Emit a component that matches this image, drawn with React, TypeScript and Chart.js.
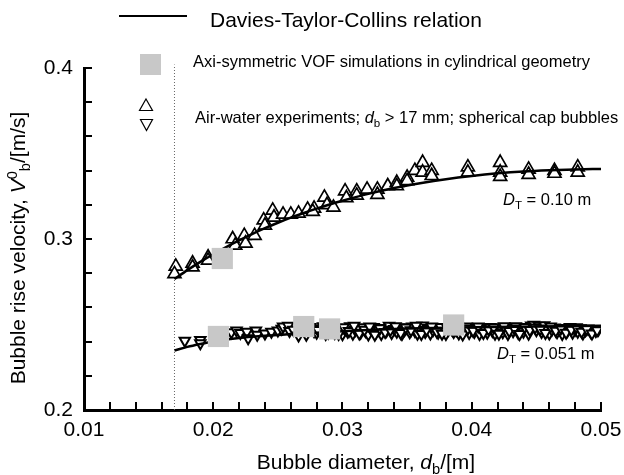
import React, { useEffect, useRef } from "react";
import { Chart, registerables } from "chart.js";

Chart.register(...registerables);

const FONT = '"Liberation Sans", Arial, Helvetica, sans-serif';

// Tick labels and minor tick positions
const xTickLabels = [0.01, 0.02, 0.03, 0.04, 0.05];
const yTickLabels = [0.2, 0.3, 0.4];
const xMinorTicks = [0.010, 0.012, 0.014, 0.016, 0.018, 0.020, 0.022, 0.024, 0.026, 0.028, 0.030, 0.032, 0.034, 0.036, 0.038, 0.040, 0.042, 0.044, 0.046, 0.048, 0.050];
const yMinorTicks = [0.20, 0.22, 0.24, 0.26, 0.28, 0.30, 0.32, 0.34, 0.36, 0.38, 0.40];

// Davies-Taylor-Collins relation, D_T = 0.10 m
const upperCurveD = [0.017, 0.018, 0.019, 0.020, 0.021, 0.022, 0.023, 0.024, 0.025, 0.026, 0.027, 0.028, 0.029, 0.030, 0.032, 0.034, 0.036, 0.038, 0.040, 0.042, 0.044, 0.046, 0.048, 0.050];
const upperCurveV = [0.2766, 0.2818, 0.2866, 0.2911, 0.2953, 0.2992, 0.3029, 0.3063, 0.3095, 0.3125, 0.3152, 0.3178, 0.3202, 0.3224, 0.3264, 0.3298, 0.3326, 0.3350, 0.3369, 0.3384, 0.3395, 0.3402, 0.3407, 0.3410];

// Davies-Taylor-Collins relation, D_T = 0.051 m
const lowerCurveD = [0.017, 0.018, 0.019, 0.020, 0.021, 0.022, 0.023, 0.024, 0.025, 0.026, 0.028, 0.030, 0.032, 0.035, 0.040, 0.045, 0.050];
const lowerCurveV = [0.2348, 0.2369, 0.2386, 0.2401, 0.2412, 0.2421, 0.2428, 0.2434, 0.2439, 0.2444, 0.2452, 0.2460, 0.2468, 0.2476, 0.2484, 0.2489, 0.2492];

// Axi-symmetric VOF simulations
const vofD = [0.0207, 0.0204, 0.0270, 0.0290, 0.0386];
const vofV = [0.2886, 0.2430, 0.2488, 0.2474, 0.2497];

// Air-water experiments, D_T = 0.10 m (up triangles)
const expUpperD = [0.0171, 0.0170, 0.0184, 0.0184, 0.0196, 0.0196, 0.0215, 0.0217, 0.0224, 0.0225, 0.0232, 0.0239, 0.0240, 0.0246, 0.0247, 0.0254, 0.0260, 0.0266, 0.0273, 0.0278, 0.0277, 0.0286, 0.0288, 0.0293, 0.0302, 0.0303, 0.0311, 0.0311, 0.0319, 0.0327, 0.0327, 0.0335, 0.0342, 0.0342, 0.0350, 0.0350, 0.0356, 0.0362, 0.0362, 0.0369, 0.0369, 0.0397, 0.0397, 0.0422, 0.0422, 0.0422, 0.0444, 0.0444, 0.0464, 0.0464, 0.0482, 0.0482];
const expUpperV = [0.2840, 0.2796, 0.2858, 0.2835, 0.2893, 0.2875, 0.3000, 0.2963, 0.3020, 0.2975, 0.3020, 0.3110, 0.3080, 0.3167, 0.3127, 0.3144, 0.3144, 0.3150, 0.3173, 0.3179, 0.3160, 0.3243, 0.3200, 0.3185, 0.3280, 0.3240, 0.3280, 0.3255, 0.3290, 0.3290, 0.3260, 0.3310, 0.3330, 0.3310, 0.3360, 0.3340, 0.3400, 0.3447, 0.3390, 0.3400, 0.3370, 0.3420, 0.3390, 0.3447, 0.3390, 0.3365, 0.3407, 0.3377, 0.3400, 0.3383, 0.3420, 0.3390];

// Air-water experiments, D_T = 0.051 m (down triangles)
const expLowerD = [0.0178, 0.0190, 0.0190, 0.0214, 0.0218, 0.0221, 0.0226, 0.0227, 0.0233, 0.0234, 0.0240, 0.0245, 0.0250, 0.0253, 0.0254, 0.0258, 0.0259, 0.0262, 0.0266, 0.0268, 0.0272, 0.0275, 0.0278,
  0.0280, 0.0283, 0.0285, 0.0287, 0.0290, 0.0292, 0.0294, 0.0296, 0.0298, 0.0300, 0.0302, 0.0304, 0.0306, 0.0308, 0.0310, 0.0312, 0.0314, 0.0316, 0.0318, 0.0320, 0.0322, 0.0324, 0.0326, 0.0328,
  0.0330, 0.0332, 0.0334, 0.0336, 0.0338, 0.0340, 0.0342, 0.0344, 0.0346, 0.0348, 0.0350, 0.0352, 0.0354, 0.0356, 0.0358, 0.0360, 0.0362, 0.0364, 0.0366, 0.0368, 0.0370, 0.0372, 0.0374, 0.0376,
  0.0378, 0.0380, 0.0382, 0.0384, 0.0386, 0.0388, 0.0390, 0.0392, 0.0394, 0.0396, 0.0398, 0.0400, 0.0402, 0.0404, 0.0406, 0.0408, 0.0410, 0.0412, 0.0414, 0.0416, 0.0418, 0.0420, 0.0422, 0.0424,
  0.0426, 0.0428, 0.0430, 0.0432, 0.0434, 0.0436, 0.0438, 0.0440, 0.0442, 0.0444, 0.0446, 0.0448, 0.0450, 0.0452, 0.0454, 0.0456, 0.0458, 0.0460, 0.0462, 0.0464, 0.0466, 0.0468, 0.0470, 0.0472,
  0.0474, 0.0476, 0.0478, 0.0480, 0.0482, 0.0484, 0.0486, 0.0488, 0.0490, 0.0492, 0.0494, 0.0496, 0.0498];
const expLowerV = [0.2405, 0.2410, 0.2390, 0.2455, 0.2465, 0.2450, 0.2458, 0.2420, 0.2465, 0.2440, 0.2448, 0.2458, 0.2465, 0.2475, 0.2488, 0.2492, 0.2462, 0.2470, 0.2436, 0.2478, 0.2440, 0.2485, 0.2460,
  0.2452, 0.2478, 0.2462, 0.2445, 0.2470, 0.2488, 0.2450, 0.2465, 0.2480, 0.2443, 0.2472, 0.2458, 0.2490, 0.2446, 0.2468, 0.2478, 0.2452, 0.2484, 0.2460, 0.2442, 0.2474, 0.2486, 0.2455, 0.2470,
  0.2445, 0.2480, 0.2462, 0.2492, 0.2450, 0.2474, 0.2458, 0.2484, 0.2444, 0.2468, 0.2478, 0.2454, 0.2488, 0.2462, 0.2446, 0.2472, 0.2494, 0.2456, 0.2480, 0.2448, 0.2466, 0.2476, 0.2452, 0.2486,
  0.2460, 0.2444, 0.2470, 0.2482, 0.2456, 0.2466, 0.2448, 0.2478, 0.2460, 0.2488, 0.2450, 0.2472, 0.2456, 0.2482, 0.2444, 0.2468, 0.2478, 0.2452, 0.2486, 0.2462, 0.2446, 0.2474, 0.2484, 0.2454,
  0.2470, 0.2445, 0.2480, 0.2460, 0.2490, 0.2450, 0.2472, 0.2458, 0.2484, 0.2446, 0.2494, 0.2498, 0.2466, 0.2492, 0.2456, 0.2496, 0.2476, 0.2448, 0.2470, 0.2482, 0.2454, 0.2474, 0.2444, 0.2480,
  0.2462, 0.2486, 0.2452, 0.2470, 0.2458, 0.2478, 0.2448, 0.2466, 0.2476, 0.2456, 0.2472, 0.2462, 0.2470];
const expLowerExtraD = [0.0281, 0.0285, 0.0289, 0.0293, 0.0297, 0.0301, 0.0305, 0.0309, 0.0313, 0.0317, 0.0321, 0.0325, 0.0329, 0.0333, 0.0337, 0.0341, 0.0345, 0.0349, 0.0353, 0.0357,
  0.0361, 0.0365, 0.0369, 0.0373, 0.0377, 0.0381, 0.0385, 0.0389, 0.0393, 0.0397, 0.0401, 0.0405, 0.0409, 0.0413, 0.0417, 0.0421, 0.0425, 0.0429, 0.0433, 0.0437,
  0.0441, 0.0445, 0.0449, 0.0453, 0.0457, 0.0461, 0.0465, 0.0469, 0.0473, 0.0477, 0.0481, 0.0485, 0.0489, 0.0493, 0.0497];
const expLowerExtraV = [0.2468, 0.2490, 0.2452, 0.2476, 0.2444, 0.2484, 0.2462, 0.2492, 0.2448, 0.2470, 0.2488, 0.2440, 0.2478, 0.2456, 0.2468, 0.2490, 0.2450, 0.2482, 0.2466, 0.2492,
  0.2444, 0.2470, 0.2488, 0.2458, 0.2446, 0.2484, 0.2468, 0.2490, 0.2442, 0.2476, 0.2464, 0.2488, 0.2450, 0.2472, 0.2482, 0.2446, 0.2490, 0.2462, 0.2476, 0.2444,
  0.2486, 0.2468, 0.2482, 0.2472, 0.2450, 0.2488, 0.2464, 0.2478, 0.2452, 0.2470, 0.2484, 0.2458, 0.2474, 0.2448, 0.2466];

// d_b > 17 mm limit
const limitD = [0.017, 0.017];
const limitV = [0.2, 0.402];

const pts = (xs: number[], ys: number[]) => xs.map((x, i) => ({ x, y: ys[i] }));

type Seg = { t: string; italic?: boolean; scale?: number; dy?: number };

function segFont(size: number, s: Seg) {
  return `${s.italic ? "italic " : ""}${size * (s.scale || 1)}px ${FONT}`;
}
function richWidth(ctx: CanvasRenderingContext2D, segs: Seg[], size: number) {
  let w = 0;
  for (const s of segs) {
    ctx.font = segFont(size, s);
    w += ctx.measureText(s.t).width;
  }
  return w;
}
function drawRich(ctx: CanvasRenderingContext2D, segs: Seg[], x: number, y: number, size: number, align: "left" | "center") {
  const total = richWidth(ctx, segs, size);
  let cx = align === "center" ? x - total / 2 : x;
  ctx.textAlign = "left";
  ctx.textBaseline = "alphabetic";
  for (const s of segs) {
    ctx.font = segFont(size, s);
    ctx.fillText(s.t, cx, y + (s.dy || 0) * size);
    cx += ctx.measureText(s.t).width;
  }
}

const overlay = {
  id: "overlay",
  afterDatasetsDraw(chart: any) {
    const ctx: CanvasRenderingContext2D = chart.ctx;
    const xs = chart.scales.x;
    const ys = chart.scales.y;
    const { left, bottom } = chart.chartArea;
    ctx.save();
    ctx.strokeStyle = "#000";
    ctx.lineWidth = 2;
    ctx.beginPath();
    for (const v of xMinorTicks) {
      const px = Math.round(xs.getPixelForValue(v));
      ctx.moveTo(px, bottom);
      ctx.lineTo(px, bottom - 8);
    }
    for (const v of yMinorTicks) {
      const py = Math.round(ys.getPixelForValue(v));
      ctx.moveTo(left, py);
      ctx.lineTo(left + 8, py);
    }
    ctx.stroke();
    ctx.restore();
  },
  afterDraw(chart: any) {
    const ctx: CanvasRenderingContext2D = chart.ctx;
    ctx.save();
    ctx.fillStyle = "#000";
    ctx.strokeStyle = "#000";

    // Top legend: line + label
    ctx.lineWidth = 2;
    ctx.beginPath();
    ctx.moveTo(119, 16);
    ctx.lineTo(187, 16);
    ctx.stroke();
    drawRich(ctx, [{ t: "Davies-Taylor-Collins relation" }], 210, 27, 21, "left");

    // VOF legend
    ctx.fillStyle = "#c8c8c8";
    ctx.fillRect(140, 54, 21, 21);
    ctx.fillStyle = "#000";
    drawRich(ctx, [{ t: "Axi-symmetric VOF simulations in cylindrical geometry" }], 193, 67, 16.5, "left");

    // Experiments legend
    ctx.lineWidth = 1.2;
    ctx.fillStyle = "#fff";
    ctx.beginPath();
    ctx.moveTo(146, 99);
    ctx.lineTo(152.5, 110.5);
    ctx.lineTo(139.5, 110.5);
    ctx.closePath();
    ctx.fill();
    ctx.stroke();
    ctx.beginPath();
    ctx.moveTo(140.5, 119.5);
    ctx.lineTo(152.5, 119.5);
    ctx.lineTo(146.5, 130.5);
    ctx.closePath();
    ctx.fill();
    ctx.stroke();
    ctx.fillStyle = "#000";
    drawRich(ctx, [
      { t: "Air-water experiments; " },
      { t: "d", italic: true },
      { t: "b", scale: 0.7, dy: 0.25 },
      { t: " > 17 mm; spherical cap bubbles" },
    ], 195, 123, 16.5, "left");

    // D_T annotations
    drawRich(ctx, [{ t: "D", italic: true }, { t: "T", scale: 0.7, dy: 0.25 }, { t: " = 0.10 m" }], 503, 205, 16.5, "left");
    drawRich(ctx, [{ t: "D", italic: true }, { t: "T", scale: 0.7, dy: 0.25 }, { t: " = 0.051 m" }], 497, 359, 16.5, "left");

    // X axis title
    drawRich(ctx, [
      { t: "Bubble diameter, " },
      { t: "d", italic: true },
      { t: "b", scale: 0.7, dy: 0.25 },
      { t: "/[m]" },
    ], 366, 469, 21, "center");

    // Y axis title (rotated)
    ctx.translate(25, 248);
    ctx.rotate(-Math.PI / 2);
    drawRich(ctx, [
      { t: "Bubble rise velocity, " },
      { t: "V", italic: true },
      { t: "0", scale: 0.7, dy: -0.4 },
      { t: "b", scale: 0.7, dy: 0.25 },
      { t: "/[m/s]" },
    ], 0, 0, 21, "center");
    ctx.restore();
  },
};

export default function App() {
  const ref = useRef<HTMLCanvasElement | null>(null);
  useEffect(() => {
    document.body.style.margin = "0";
    if (!ref.current) return;
    const chart = new Chart(ref.current, {
      type: "scatter",
      data: {
        datasets: [
          {
            label: "VOF",
            data: pts(vofD, vofV),
            pointStyle: "rect",
            pointRadius: 15,
            pointBackgroundColor: "#c8c8c8",
            pointBorderColor: "#c8c8c8",
            pointBorderWidth: 0,
            order: 0,
          },
          {
            label: "DTC 0.10",
            data: pts(upperCurveD, upperCurveV),
            showLine: true,
            borderColor: "#000",
            borderWidth: 2.5,
            pointRadius: 0,
            cubicInterpolationMode: "monotone",
            order: 1,
          },
          {
            label: "DTC 0.051",
            data: pts(lowerCurveD, lowerCurveV),
            showLine: true,
            borderColor: "#000",
            borderWidth: 2.5,
            pointRadius: 0,
            cubicInterpolationMode: "monotone",
            order: 1,
          },
          {
            label: "Exp 0.10",
            data: pts(expUpperD, expUpperV),
            pointStyle: "triangle",
            pointRadius: 7.5,
            pointBackgroundColor: "#fff",
            pointBorderColor: "#000",
            pointBorderWidth: 1.7,
            order: 2,
          },
          {
            label: "Exp 0.051",
            data: pts(expLowerD, expLowerV).concat(pts(expLowerExtraD, expLowerExtraV)),
            pointStyle: "triangle",
            pointRotation: 180,
            pointRadius: 6,
            pointBackgroundColor: "#fff",
            pointBorderColor: "#000",
            pointBorderWidth: 2,
            order: 3,
          },
          {
            label: "limit",
            data: pts(limitD, limitV),
            showLine: true,
            borderColor: "#666",
            borderWidth: 1,
            borderDash: [1, 2],
            pointRadius: 0,
            clip: false,
            order: 4,
          },
        ],
      } as any,
      options: {
        animation: false,
        responsive: true,
        maintainAspectRatio: false,
        layout: { padding: { top: 68, left: 0, right: 23, bottom: 0 } },
        plugins: { legend: { display: false }, tooltip: { enabled: false } },
        events: [],
        scales: {
          x: {
            type: "linear",
            min: 0.01,
            max: 0.05,
            grid: { display: false, drawTicks: false },
            border: { display: true, width: 3, color: "#000" },
            ticks: {
              padding: 8,
              color: "#000",
              font: { family: FONT, size: 21 },
              maxRotation: 0,
              autoSkip: false,
              callback: (v: any) => Number(v).toFixed(2),
            },
            afterBuildTicks: (scale: any) => {
              scale.ticks = xTickLabels.map((v) => ({ value: v }));
            },
            afterFit: (scale: any) => {
              scale.height = 65;
              scale.paddingLeft = 0;
              scale.paddingRight = 0;
            },
          },
          y: {
            type: "linear",
            min: 0.2,
            max: 0.4,
            grid: { display: false, drawTicks: false },
            border: { display: true, width: 3, color: "#000" },
            ticks: {
              padding: 11,
              color: "#000",
              font: { family: FONT, size: 21 },
              autoSkip: false,
              callback: (v: any) => Number(v).toFixed(1),
            },
            afterBuildTicks: (scale: any) => {
              scale.ticks = yTickLabels.map((v) => ({ value: v }));
            },
            afterFit: (scale: any) => {
              scale.width = 84;
              scale.paddingTop = 0;
              scale.paddingBottom = 0;
            },
          },
        },
      } as any,
      plugins: [overlay],
    });
    return () => chart.destroy();
  }, []);
  return (
    <div style={{ position: "absolute", left: 0, top: 0, width: 624, height: 475 }}>
      <canvas ref={ref} />
    </div>
  );
}
